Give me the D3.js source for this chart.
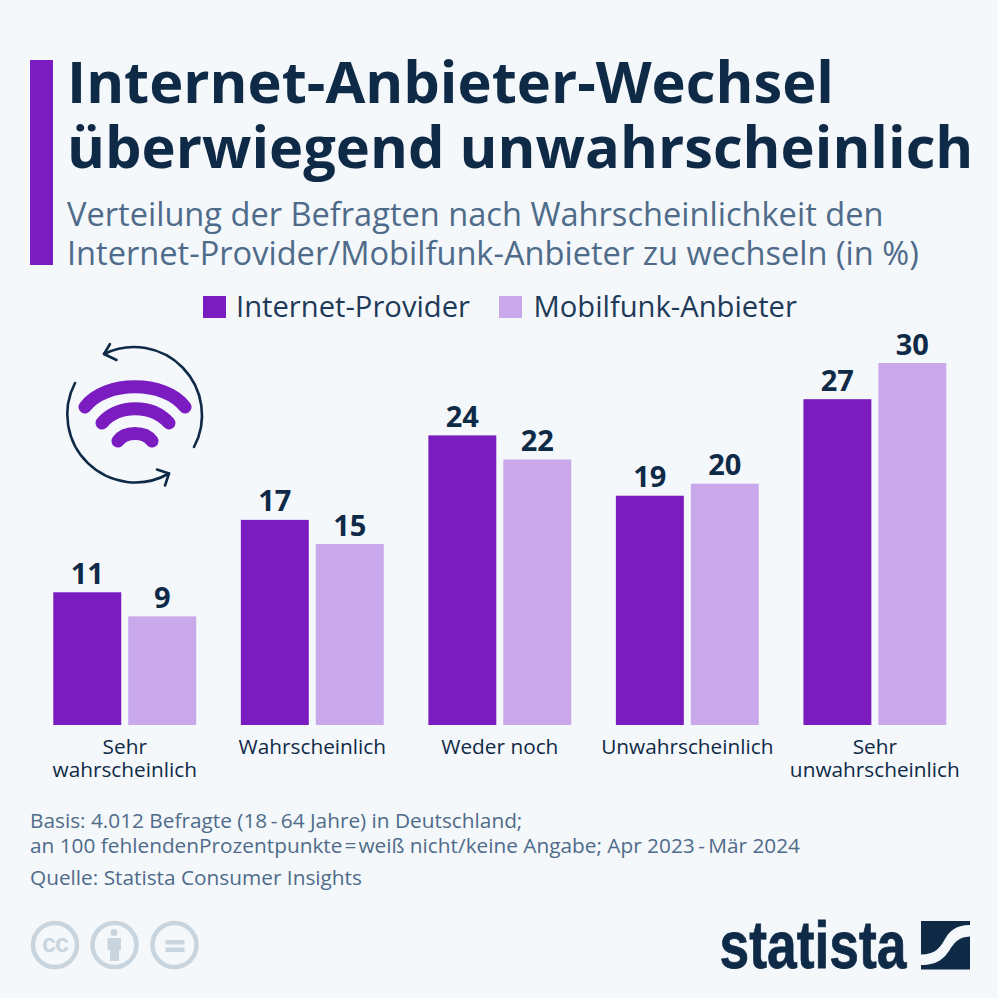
<!DOCTYPE html>
<html>
<head>
<meta charset="utf-8">
<script src="https://cdnjs.cloudflare.com/ajax/libs/d3/7.8.5/d3.min.js"></script>
<style>
    html, body { margin: 0; padding: 0; background: #f4f8fb; }
    svg { display: block; }
    text { font-family: "Open Sans", sans-serif; }
</style>
</head>
<body>
<div id="chart"></div>
<script>
// === DATA ===
const categories = [["Sehr", "wahrscheinlich"], ["Wahrscheinlich"], ["Weder noch"], ["Unwahrscheinlich"], ["Sehr", "unwahrscheinlich"]];
const seriesNames = ["Internet-Provider", "Mobilfunk-Anbieter"];
const internetValues = [11, 17, 24, 19, 27];
const mobileValues = [9, 15, 22, 20, 30];
const titleLines = ["Internet-Anbieter-Wechsel", "überwiegend unwahrscheinlich"];
const subtitleLines = [
    "Verteilung der Befragten nach Wahrscheinlichkeit den",
    "Internet-Provider/Mobilfunk-Anbieter zu wechseln (in %)"
];
const footerLines = [
    "Basis: 4.012 Befragte (18\u2009-\u200964 Jahre) in Deutschland;",
    "an 100 fehlendenProzentpunkte\u200A=\u200Aweiß nicht/keine Angabe; Apr 2023\u2009-\u2009Mär 2024",
    "Quelle: Statista Consumer Insights"
];

const navy = "#0f2a47";
const slate = "#4f6b8a";
const legendInk = "#1f3a58";
const purple = "#7a1cbf";
const lilac = "#c9a8ec";
const bg = "#f4f8fb";
const grey = "#c9d5de";

const svg = d3.select("#chart").append("svg")
    .attr("width", 998)
    .attr("height", 998)
    .style("background", bg);

// === HEADER ===
svg.append("rect").attr("x", 30).attr("y", 60).attr("width", 23).attr("height", 205).attr("fill", purple);

svg.selectAll(".title").data(titleLines).enter().append("text")
    .attr("class", "title")
    .attr("x", 67)
    .attr("y", (d, i) => 103 + i * 65)
    .attr("font-size", 57.8)
    .attr("font-weight", 700)
    .attr("fill", navy)
    .text(d => d);

svg.selectAll(".subtitle").data(subtitleLines).enter().append("text")
    .attr("class", "subtitle")
    .attr("x", 67)
    .attr("y", (d, i) => 226 + i * 39)
    .attr("font-size", 32.6)
    .attr("fill", slate)
    .text(d => d);

// === LEGEND ===
const legendX = [203, 499];
const legend = svg.selectAll(".legend").data(seriesNames).enter().append("g")
    .attr("class", "legend")
    .attr("transform", (d, i) => `translate(${legendX[i]},296)`);
legend.append("rect").attr("width", 23).attr("height", 22).attr("fill", (d, i) => i === 0 ? purple : lilac);
legend.append("text").attr("x", (d, i) => i === 0 ? 33 : 34.5).attr("y", 21).attr("font-size", 29.2).attr("fill", legendInk).text(d => d);

// === BARS ===
const x0 = d3.scaleBand().domain(d3.range(categories.length)).range([53.3, 946.3]).paddingInner(0.238);
const x1 = d3.scaleBand().domain([0, 1]).range([0, x0.bandwidth()]).paddingInner(0.0933);
const y = d3.scaleLinear().domain([0, 30]).range([725, 363]);

const groups = svg.selectAll(".group").data(categories).enter().append("g")
    .attr("class", "group")
    .attr("transform", (d, i) => `translate(${x0(i)},0)`);

[internetValues, mobileValues].forEach((values, s) => {
    groups.append("rect")
        .attr("x", x1(s))
        .attr("y", (d, i) => y(values[i]))
        .attr("width", x1.bandwidth())
        .attr("height", (d, i) => y(0) - y(values[i]))
        .attr("fill", s === 0 ? purple : lilac);
    groups.append("text")
        .attr("x", x1(s) + x1.bandwidth() / 2)
        .attr("y", (d, i) => y(values[i]) - 8.5)
        .attr("text-anchor", "middle")
        .attr("font-size", 29)
        .attr("font-weight", 700)
        .attr("fill", navy)
        .text((d, i) => values[i]);
});

groups.each(function(lines) {
    d3.select(this).selectAll(".cat").data(lines).enter().append("text")
        .attr("class", "cat")
        .attr("x", x0.bandwidth() / 2)
        .attr("y", (d, i) => 754 + i * 23)
        .attr("text-anchor", "middle")
        .attr("font-size", 20.8)
        .attr("fill", navy)
        .text(d => d);
});

// === WIFI ICON ===
const icon = svg.append("g").attr("fill", "none").attr("stroke-linecap", "round");
["M85 407C105 380 165 380 185 407", "M102 423C118 404 152 404 169 423", "M118 441C125 431 145 431 152 441"].forEach(d => {
    icon.append("path").attr("d", d).attr("stroke", purple).attr("stroke-width", 13);
});
[
    "M194 447A68 68 0 0 0 104 354",
    "M110 344L104 354L116.500 360",
    "M75 383A68 68 0 0 0 169 473.500",
    "M157 469.500L169 473.500L165 485.500"
].forEach(d => {
    icon.append("path").attr("d", d).attr("stroke", navy).attr("stroke-width", 2.6).attr("stroke-linejoin", "round");
});

// === FOOTER ===
const footerY = [828, 853, 885];
svg.selectAll(".footer").data(footerLines).enter().append("text")
    .attr("class", "footer")
    .attr("x", 30)
    .attr("y", (d, i) => footerY[i])
    .attr("font-size", 20.8)
    .attr("fill", slate)
    .text(d => d);

// CC badges
svg.selectAll(".badge").data([55, 114.5, 174.5]).enter().append("circle")
    .attr("class", "badge")
    .attr("cx", d => d)
    .attr("cy", 945)
    .attr("r", 22)
    .attr("fill", "none")
    .attr("stroke", grey)
    .attr("stroke-width", 4.5);
svg.append("text").attr("x", 55).attr("y", 952).attr("text-anchor", "middle")
    .style("font-family", "'Liberation Sans', sans-serif")
    .attr("letter-spacing", -1)
    .attr("font-size", 25).attr("font-weight", 700).attr("fill", grey).text("cc");
svg.append("circle").attr("cx", 114).attr("cy", 932.5).attr("r", 3.5).attr("fill", grey);
svg.append("path").attr("d", "M107.500 938H121V950H119V961H110V950H107.500Z").attr("fill", grey);
svg.append("rect").attr("x", 165.5).attr("y", 940).attr("width", 19).attr("height", 4.500).attr("fill", grey);
svg.append("rect").attr("x", 165.5).attr("y", 947.500).attr("width", 19).attr("height", 4.500).attr("fill", grey);

// === STATISTA LOGO ===
svg.append("text")
    .attr("x", 719.5)
    .attr("y", 968)
    .attr("textLength", 187)
    .attr("lengthAdjust", "spacingAndGlyphs")
    .style("font-family", "'Liberation Sans Narrow', 'Liberation Sans', sans-serif")
    .attr("font-size", 67)
    .attr("font-weight", 700)
    .attr("fill", navy)
    .attr("stroke", navy)
    .attr("stroke-width", 0.8)
    .text("statista");
svg.append("rect").attr("x", 921).attr("y", 921).attr("width", 49).attr("height", 48.500).attr("fill", navy);
svg.append("path")
    .attr("d", "M970 925C955 925 949 932 945 939C940 948 935 954.500 921 954.500V965C938 965 944 958 949 951C954 943 958 937 970 936.500Z")
    .attr("fill", bg);
</script>
</body>
</html>
